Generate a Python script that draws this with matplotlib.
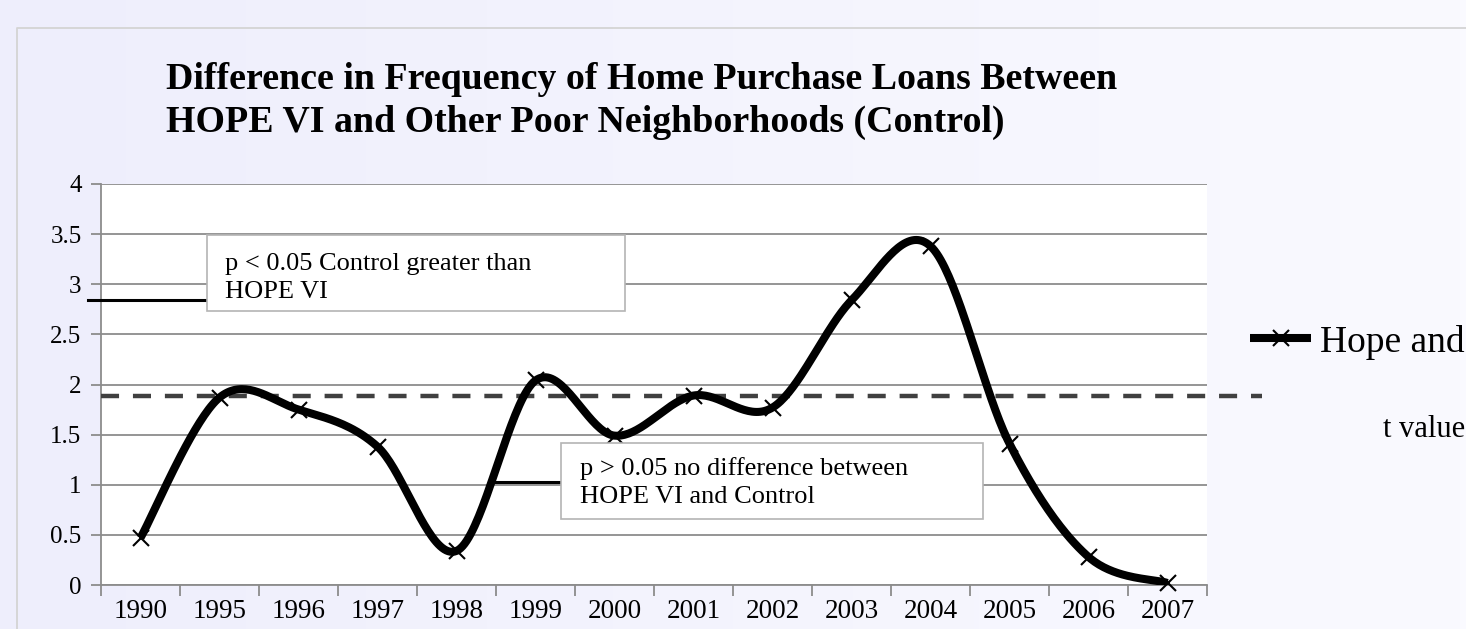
import numpy as np
import matplotlib
matplotlib.use("Agg")
import matplotlib.pyplot as plt
from matplotlib.patches import Rectangle
from matplotlib.lines import Line2D

# ---- data -------------------------------------------------------------
years = ["1990", "1995", "1996", "1997", "1998", "1999", "2000",
         "2001", "2002", "2003", "2004", "2005", "2006", "2007"]
t_values = [0.47, 1.87, 1.75, 1.38, 0.34, 2.04, 1.49,
            1.89, 1.77, 2.84, 3.38, 1.41, 0.28, 0.02]
critical_t = 1.89
y_ticks = [0, 0.5, 1, 1.5, 2, 2.5, 3, 3.5, 4]
y_tick_labels = ["0", "0.5", "1", "1.5", "2", "2.5", "3", "3.5", "4"]

title_lines = ["Difference in Frequency of Home Purchase Loans Between",
               "HOPE VI and Other Poor Neighborhoods (Control)"]
note_high = ["p < 0.05 Control greater than", "HOPE VI"]
note_low = ["p > 0.05 no difference between", "HOPE VI and Control"]
legend_label = "Hope and"
legend_sub = "t value"

SERIF = ["Liberation Serif", "DejaVu Serif"]
plt.rcParams["font.family"] = SERIF
plt.rcParams["lines.scale_dashes"] = False

W, H = 1466, 629
fig = plt.figure(figsize=(W / 100, H / 100), dpi=100)


def px(x, y):
    """pixel position (from top-left) -> figure fraction"""
    return x / W, 1 - y / H


# ---- background: soft lavender gradient with a thin frame -------------
bg = fig.add_axes([0, 0, 1, 1], zorder=-10)
grad = np.linspace(0, 1, 256)
left_c = np.array([238, 238, 252]) / 255
right_c = np.array([250, 250, 255]) / 255
img = left_c[None, :] * (1 - grad[:, None]) + right_c[None, :] * grad[:, None]
bg.imshow(img[None, :, :], aspect="auto", extent=[0, 1, 0, 1])
bg.set_xlim(0, 1)
bg.set_ylim(0, 1)
bg.axis("off")
fx, fy = px(17, 28)
bg.plot([fx, fx, 1.0], [0, fy, fy], color="#d4d4d4", lw=1.3)

# ---- title ------------------------------------------------------------
for line, base in zip(title_lines, [89, 132]):
    tx, ty = px(166, base)
    fig.text(tx, ty, line, fontsize=27.3, fontweight="bold", ha="left",
             va="baseline", color="black")

# ---- plot area ----------------------------------------------------------
x0, y0 = px(101, 585)
x1, y1 = px(1207, 184)
ax = fig.add_axes([x0, y0, x1 - x0, y1 - y0])
ax.set_facecolor("white")
n = len(years)
ax.set_xlim(-0.5, n - 0.5)
ax.set_ylim(0, 4)

for s in ["top", "right"]:
    ax.spines[s].set_visible(False)
for s in ["left", "bottom"]:
    ax.spines[s].set_color("#8c8c8c")
    ax.spines[s].set_linewidth(1.3)

ax.set_yticks(y_ticks)
ax.set_yticklabels(y_tick_labels)
ax.yaxis.grid(True, color="#8c8c8c", lw=1.3)
ax.set_axisbelow(True)
ax.tick_params(axis="y", length=7, width=1.3, color="#8c8c8c",
               labelsize=18, pad=7)

# category labels centred, tick marks on category boundaries
ax.set_xticks(np.arange(-0.5, n, 1.0))
ax.set_xticklabels([])
ax.set_xticks(np.arange(n), minor=True)
ax.set_xticklabels(years, minor=True)
ax.tick_params(axis="x", which="major", length=8, width=1.3,
               color="#8c8c8c", direction="out")
ax.tick_params(axis="x", which="minor", length=0, labelsize=19.5, pad=10.3)


# smoothed line (cubic Bezier through the points, Catmull-Rom tangents)
def smooth(xs, ys, steps=40):
    pts = np.column_stack([xs, ys]).astype(float)
    m = len(pts)
    out = []
    for i in range(m - 1):
        p0 = pts[max(i - 1, 0)]
        p1 = pts[i]
        p2 = pts[i + 1]
        p3 = pts[min(i + 2, m - 1)]
        c1 = p1 + (p2 - p0) / 6.0
        c2 = p2 - (p3 - p1) / 6.0
        t = np.linspace(0, 1, steps)[:, None]
        seg = ((1 - t) ** 3) * p1 + 3 * ((1 - t) ** 2) * t * c1 \
            + 3 * (1 - t) * t ** 2 * c2 + t ** 3 * p2
        out.append(seg if i == 0 else seg[1:])
    return np.vstack(out)


xs = np.arange(n)
curve = smooth(xs, t_values)
ax.plot(curve[:, 0], curve[:, 1], color="black", lw=5.8,
        solid_capstyle="butt", zorder=4)
ax.plot(xs, t_values, ls="none", marker="x", ms=11, mew=1.5,
        color="black", zorder=5, clip_on=False)

# significance threshold (runs past the plot area towards the legend)
x_end = (1262 - 101) / 79.0 - 0.5
ax.plot([-0.5, x_end], [critical_t, critical_t], color="#404040", lw=3.2,
        dashes=(13, 10), clip_on=False, zorder=3)


# ---- annotation boxes with leader lines ---------------------------------
def data_x(p):
    return (p - 101) / 79.0 - 0.5


def data_y(p):
    return (585 - p) / 100.25


def note(box, lines, leader, text_x, bases):
    bx0, by0, bx1, by1 = box
    ax.plot([data_x(leader[0]), data_x(leader[1])],
            [data_y(leader[2]), data_y(leader[2])],
            color="black", lw=2.2, clip_on=False, zorder=6)
    r = Rectangle((data_x(bx0), data_y(by1)),
                  data_x(bx1) - data_x(bx0), data_y(by0) - data_y(by1),
                  facecolor="white", edgecolor="#b4b4b4", lw=1.2,
                  zorder=7, clip_on=False)
    ax.add_patch(r)
    for line, base in zip(lines, bases):
        ax.text(data_x(text_x), data_y(base), line, fontsize=19,
                ha="left", va="baseline", zorder=8)


note((207, 235, 625, 311), note_high, (88, 207, 300.5), 225, (270, 298))
note((561, 443, 983, 519), note_low, (493, 561, 482), 580, (475, 503))

# ---- legend -------------------------------------------------------------
lx0, ly = px(1250, 338)
lx1, _ = px(1311, 338)
fig.add_artist(Line2D([lx0, lx1], [ly, ly], color="black", lw=5.8,
                      solid_capstyle="butt", transform=fig.transFigure))
fig.add_artist(Line2D([(lx0 + lx1) / 2], [ly], marker="x", ms=11,
                      mew=1.5, color="black", transform=fig.transFigure))
hx, hy = px(1320, 352)
fig.text(hx, hy, legend_label, fontsize=27, ha="left", va="baseline")
vx, vy = px(1383, 437)
fig.text(vx, vy, legend_sub, fontsize=22, ha="left", va="baseline")

fig.savefig("out.png", dpi=100)
